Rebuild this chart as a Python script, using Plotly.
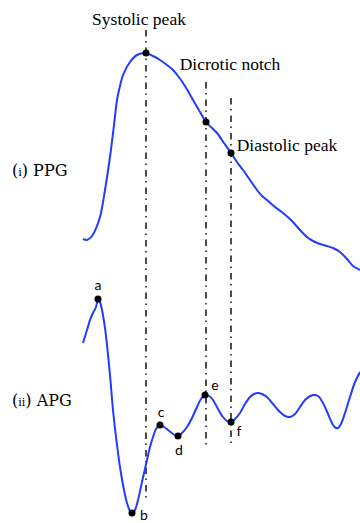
import plotly.graph_objects as go

# PPG waveform (x, y in chart units; y grows downward)
ppg_x = [83, 87, 92, 100, 105, 110, 114, 117, 120, 123, 130, 137, 146, 153, 160, 167, 173, 178, 183, 188, 193, 200, 206, 212, 217, 224, 231, 237, 243, 250, 257, 262, 267, 275, 283, 292, 300, 307, 313, 320, 327, 333, 340, 347, 353, 360]
ppg_y = [239, 240, 236, 217, 190, 157, 125, 100, 86, 75, 62, 55, 53, 56, 60, 65, 70, 76, 83, 91, 100, 112, 122, 128, 133, 143, 153, 162, 170, 180, 190, 196, 200, 207, 213, 221, 230, 237, 241, 244, 246, 248, 252, 259, 266, 270]

# APG waveform
apg_x = [83, 87, 90, 93, 96, 98, 100, 102, 105, 107, 110, 113, 117, 120, 124, 127, 130, 132, 135, 138, 142, 147, 150, 153, 156, 160, 164, 168, 173, 178, 182, 187, 192, 197, 201, 205, 209, 213, 218, 223, 227, 231, 235, 240, 245, 250, 254, 258, 262, 267, 273, 280, 285, 290, 295, 300, 306, 313, 318, 323, 328, 333, 336, 338, 341, 345, 350, 355, 360]
apg_y = [343, 330, 320, 313, 307, 299, 302, 310, 328, 345, 375, 410, 445, 467, 490, 503, 511, 513, 510, 500, 482, 460, 447, 437, 429, 425, 427, 430, 434, 436, 433, 427, 418, 407, 399, 395, 396, 400, 409, 417, 421, 422, 419, 413, 404, 397, 394, 393, 394, 397, 404, 412, 416, 417, 414, 407, 399, 395, 396, 403, 414, 425, 428, 428, 424, 413, 397, 382, 372]

# Marked points
ppg_pt_x = [146, 206, 231]
ppg_pt_y = [53, 122, 153]
apg_pt_x = [98, 132, 160, 178, 205, 231]
apg_pt_y = [299, 513, 425, 436, 395, 422]
apg_labels = ["a", "b", "c", "d", "e", "f"]
apg_lab_x = [98, 144, 161, 179, 215, 239]
apg_lab_y = [286, 516, 413, 451, 386, 432]

# Vertical reference lines
vline_x = [146, 206, 231]
vline_top = [30, 82, 98]
vline_bot = [502, 445, 445]

# Annotations
ppg_labels = ["Systolic peak", "Dicrotic notch", "Diastolic peak"]
ppg_lab_x = [139, 230, 287]
ppg_lab_y = [21, 66, 147]
panel_labels = ["(<span style='font-size:11px'>i</span>) PPG", "(<span style='font-size:11px'>ii</span>) APG"]
panel_lab_x = [12, 12]
panel_lab_y = [172, 402]

BLUE = "#1f3cff"

fig = go.Figure()

for x, t, b in zip(vline_x, vline_top, vline_bot):
    fig.add_trace(go.Scatter(x=[x, x], y=[t, b], mode="lines",
                             line=dict(color="black", width=1.4, dash="6.5px,4.5px,1.5px,5px"),
                             hoverinfo="skip"))

fig.add_trace(go.Scatter(x=ppg_x, y=ppg_y, mode="lines",
                         line=dict(color=BLUE, width=2, shape="spline", smoothing=0.8)))
fig.add_trace(go.Scatter(x=apg_x, y=apg_y, mode="lines",
                         line=dict(color=BLUE, width=2, shape="spline", smoothing=0.8)))

fig.add_trace(go.Scatter(x=ppg_pt_x, y=ppg_pt_y, mode="markers",
                         marker=dict(color="black", size=7)))
fig.add_trace(go.Scatter(x=apg_pt_x, y=apg_pt_y, mode="markers",
                         marker=dict(color="black", size=7)))

fig.add_trace(go.Scatter(x=apg_lab_x, y=apg_lab_y, mode="text", text=apg_labels,
                         textfont=dict(family="Lato, Liberation Sans, sans-serif", size=14, color="black"),
                         textposition="middle center"))

fig.add_trace(go.Scatter(x=ppg_lab_x, y=ppg_lab_y, mode="text", text=ppg_labels,
                         textfont=dict(family="Liberation Serif, serif", size=17.5, color="black"),
                         textposition="middle center"))

fig.add_trace(go.Scatter(x=panel_lab_x, y=panel_lab_y, mode="text", text=panel_labels,
                         textfont=dict(family="DejaVu Serif, serif", size=16, color="black"),
                         textposition="middle right"))

fig.update_layout(
    width=360, height=523,
    margin=dict(l=0, r=0, t=0, b=0),
    paper_bgcolor="white", plot_bgcolor="white",
    showlegend=False,
    xaxis=dict(range=[0, 360], visible=False, fixedrange=True),
    yaxis=dict(range=[523, 0], visible=False, fixedrange=True),
)

fig.write_html("out.html", config={"displayModeBar": False},
               post_script="document.body.style.margin='0';document.body.style.overflow='hidden';")
